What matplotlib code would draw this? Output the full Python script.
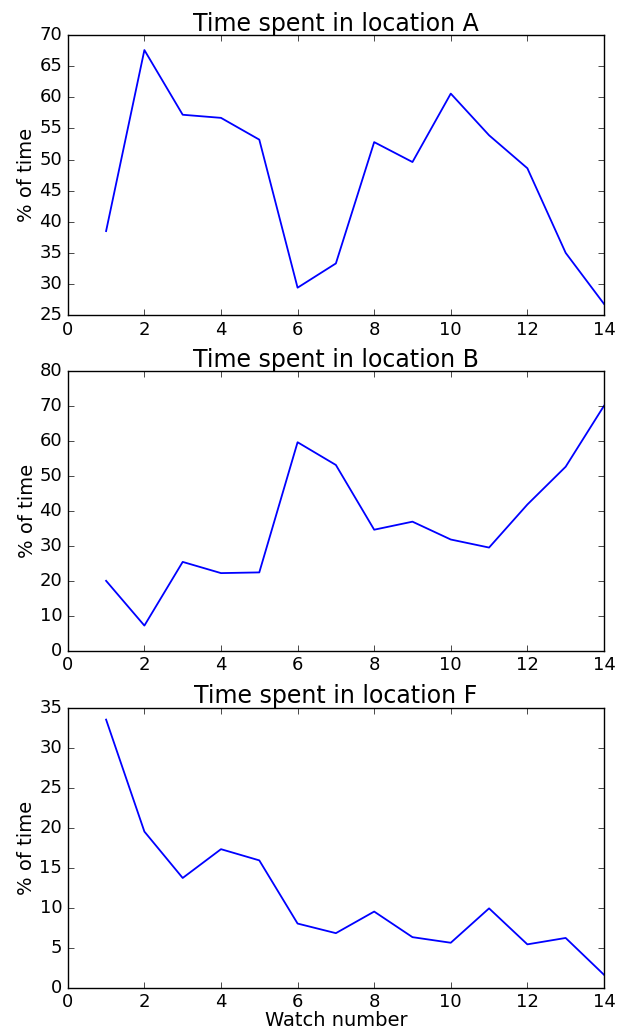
import numpy as np
import matplotlib
matplotlib.use("Agg")
import matplotlib.pyplot as plt

plt.style.use("classic")

watch = np.arange(1, 15)

# % of time per watch
loc_a = [38.5, 67.6, 57.2, 56.7, 53.2, 29.4, 33.3, 52.8, 49.6, 60.6, 53.9, 48.6, 35.0, 26.8]
loc_b = [20.0, 7.2, 25.4, 22.2, 22.4, 59.6, 53.1, 34.6, 36.9, 31.8, 29.5, 41.8, 52.6, 70.0]
loc_f = [33.5, 19.5, 13.7, 17.3, 15.9, 8.0, 6.8, 9.5, 6.3, 5.6, 9.9, 5.4, 6.2, 1.6]

labels = ["A", "B", "F"]
series = [loc_a, loc_b, loc_f]
ylims = [(25, 70), (0, 80), (0, 35)]

fig = plt.figure(figsize=(6.22, 10.33), dpi=100, facecolor="white")
boxes = [[0.109, 0.695, 0.862, 0.271],
         [0.109, 0.370, 0.862, 0.271],
         [0.109, 0.044, 0.862, 0.271]]

for box, lab, vals, yl in zip(boxes, labels, series, ylims):
    ax = fig.add_axes(box)
    ax.plot(watch, vals, color="b", lw=1.3)
    ax.set_xlim(0, 14)
    ax.set_ylim(*yl)
    ax.tick_params(labelsize=13)
    ax.set_title("Time spent in location " + lab, fontsize=17, pad=3)
    ax.set_ylabel("% of time", fontsize=14, labelpad=2)

ax.set_xlabel("Watch number", fontsize=14, labelpad=0)

fig.savefig("out.png", dpi=100, facecolor="white")
